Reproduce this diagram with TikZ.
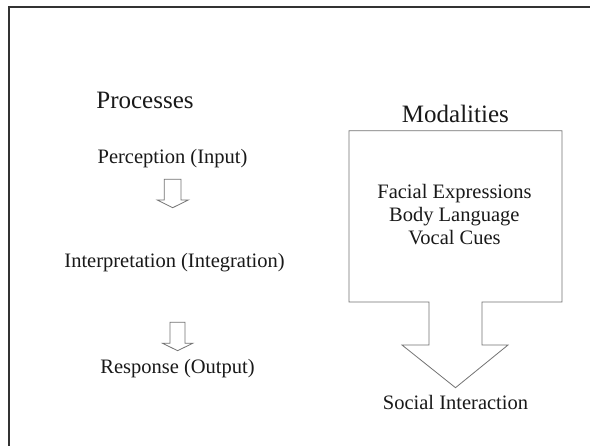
\documentclass[tikz,border=0pt]{standalone}
\usepackage{fontspec}
\setmainfont{Liberation Serif}
\tikzset{
  head/.style={font=\fontsize{25}{30}\selectfont, anchor=base, inner sep=0pt, text=black!90},
  item/.style={font=\fontsize{20.5}{24}\selectfont, anchor=base, inner sep=0pt, text=black!90},
  shapeline/.style={draw=black!55, line width=0.8pt, fill=white, line join=miter},
  framestyle/.style={draw=black!80, line width=2pt}
}
\begin{document}
\begin{tikzpicture}[x=1pt,y=-1pt]
\useasboundingbox (0,0) rectangle (590,446);
\fill[white] (0,0) rectangle (590,446);
% frame (open to the right and bottom)
\draw[framestyle] (9.4,447) -- (9.4,6.7) -- (591,6.7);

% left column
\node[head] (proc) at (145,108.3) {Processes};
\node[item] (perc) at (172.5,164) {Perception (Input)};
\node[item] (interp) at (174.6,268) {Interpretation (Integration)};
\node[item] (resp) at (177.5,374) {Response (Output)};

% small block arrows
\draw[shapeline] (164.3,179.3) -- (181,179.3) -- (181,200) -- (188.3,200) -- (172.7,207.7)
  -- (157.3,200) -- (164.3,200) -- cycle;
\draw[shapeline] (170,322.3) -- (185,322.3) -- (185,343.3) -- (192.7,343.3) -- (177.6,350.7)
  -- (162.6,343.3) -- (170,343.3) -- cycle;

% right column
\node[head] (moda) at (455.4,122.7) {Modalities};
\draw[shapeline] (349,130.7) -- (562,130.7) -- (562,302) -- (482,302) -- (482,345)
  -- (508,345) -- (455.5,387.7) -- (402,345) -- (429,345) -- (429,302) -- (349,302) -- cycle;
\node[item] (facial) at (454.5,198.3) {Facial Expressions};
\node[item] (body) at (454.3,221.7) {Body Language};
\node[item] (vocal) at (454.5,245) {Vocal Cues};
\node[item] (social) at (455.5,410) {Social Interaction};
\end{tikzpicture}
\end{document}
